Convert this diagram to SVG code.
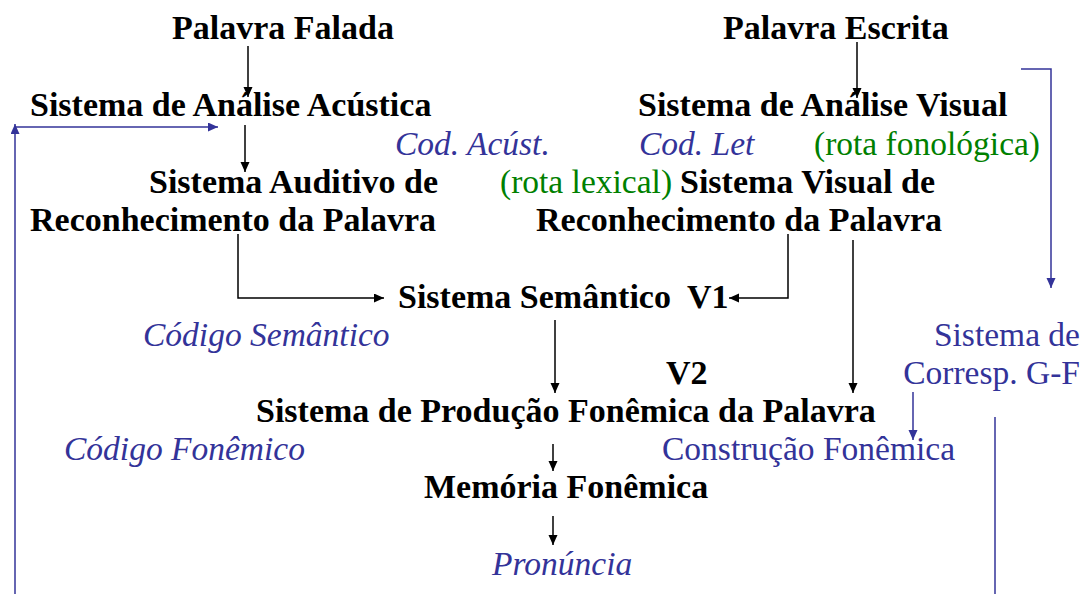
<svg xmlns="http://www.w3.org/2000/svg" width="1083" height="594" viewBox="0 0 1083 594">
<style>
text{font-family:"Liberation Serif","Times New Roman",serif;font-size:33.5px}
.b{font-weight:bold;fill:#000;font-size:34px}
.i{font-style:italic;fill:#333399}
.u{fill:#333399}
.g{fill:#008000}
.k{stroke:#000;stroke-width:1.5;fill:none}
.l{stroke:#333399;stroke-width:1.5;fill:none}
</style>
<defs>
<marker id="ak" markerUnits="userSpaceOnUse" markerWidth="11" markerHeight="10" refX="10" refY="4.5" orient="auto"><path d="M0,0 L10,4.5 L0,9 z" fill="#000"/></marker>
<marker id="ab" markerUnits="userSpaceOnUse" markerWidth="11" markerHeight="10" refX="10" refY="4.5" orient="auto"><path d="M0,0 L10,4.5 L0,9 z" fill="#333399"/></marker>
</defs>
<g id="connectors">
<line class="k" x1="248" y1="46" x2="248" y2="97" marker-end="url(#ak)"/>
<line class="k" x1="245" y1="125" x2="245" y2="172" marker-end="url(#ak)"/>
<path class="k" d="M238,234 V298 H384" marker-end="url(#ak)"/>
<path class="k" d="M788,234 V298 H729" marker-end="url(#ak)"/>
<line class="k" x1="857" y1="42" x2="857" y2="98" marker-end="url(#ak)"/>
<line class="k" x1="853" y1="240" x2="853" y2="393" marker-end="url(#ak)"/>
<line class="k" x1="555" y1="320" x2="555" y2="393" marker-end="url(#ak)"/>
<line class="k" x1="553" y1="444" x2="553" y2="471" marker-end="url(#ak)"/>
<line class="k" x1="553" y1="516" x2="553" y2="545" marker-end="url(#ak)"/>
<line class="l" x1="15" y1="594" x2="15" y2="124" marker-end="url(#ab)"/>
<line class="l" x1="15" y1="127" x2="218" y2="127" marker-end="url(#ab)"/>
<path class="l" d="M1021,69 H1051 V288" marker-end="url(#ab)"/>
<line class="l" x1="913" y1="392" x2="913" y2="440" marker-end="url(#ab)"/>
<line class="l" x1="995" y1="417" x2="995" y2="594"/>
</g>
<g id="palavra-falada"><text class="b" x="172" y="39">Palavra Falada</text></g>
<g id="palavra-escrita"><text class="b" x="723" y="39">Palavra Escrita</text></g>
<g id="analise-acustica"><text class="b" x="30" y="116">Sistema de Análise Acústica</text></g>
<g id="analise-visual"><text class="b" x="638" y="116">Sistema de Análise Visual</text></g>
<g id="cod-acust"><text class="i" x="395" y="155">Cod. Acúst.</text></g>
<g id="cod-let"><text class="i" x="639" y="155">Cod. Let</text></g>
<g id="rota-fonologica"><text class="g" x="814" y="155">(rota fonológica)</text></g>
<g id="auditivo"><text class="b" x="149" y="193">Sistema Auditivo de</text><text class="b" x="30" y="231">Reconhecimento da Palavra</text></g>
<g id="rota-lexical"><text class="g" x="500" y="193">(rota lexical)</text></g>
<g id="visual"><text class="b" x="680" y="193">Sistema Visual de</text><text class="b" x="536" y="231">Reconhecimento da Palavra</text></g>
<g id="semantico"><text class="b" x="398" y="308">Sistema Semântico<tspan x="687">V1</tspan></text></g>
<g id="codigo-semantico"><text class="i" x="143" y="346">Código Semântico</text></g>
<g id="corresp"><text class="u" x="1080" y="346" text-anchor="end">Sistema de</text><text class="u" x="1080" y="384" text-anchor="end">Corresp. G-F</text></g>
<g id="v2"><text class="b" x="666" y="384">V2</text></g>
<g id="producao"><text class="b" x="256" y="422">Sistema de Produção Fonêmica da Palavra</text></g>
<g id="codigo-fonemico"><text class="i" x="64" y="460">Código Fonêmico</text></g>
<g id="construcao"><text class="u" x="662" y="460">Construção Fonêmica</text></g>
<g id="memoria"><text class="b" x="424" y="498">Memória Fonêmica</text></g>
<g id="pronuncia"><text class="i" x="492" y="575">Pronúncia</text></g>
</svg>
